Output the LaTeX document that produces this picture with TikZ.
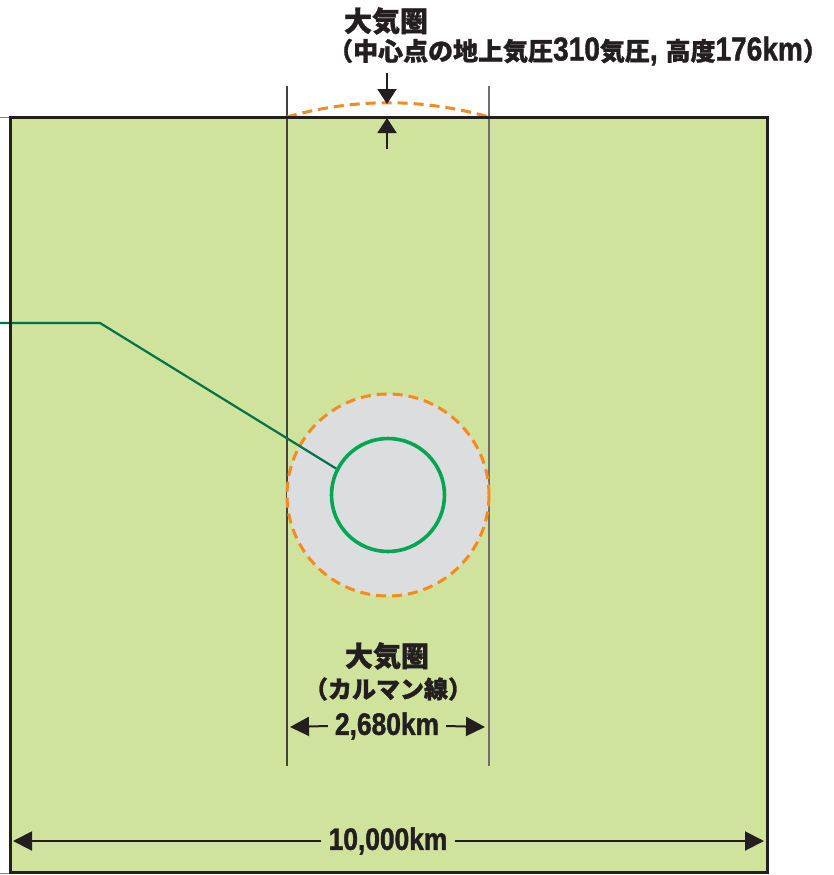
\documentclass[tikz,border=0pt]{standalone}
\usepackage{fontspec}
\usetikzlibrary{arrows.meta}
\newfontfamily\jpf{Noto Sans CJK JP}[BoldFeatures={FakeBold=1.2}]
\newfontfamily\numf{Liberation Sans}[FakeStretch=0.85, BoldFeatures={FakeBold=1.3}]
\definecolor{ink}{HTML}{231F20}
\definecolor{field}{HTML}{D0E39C}
\definecolor{orng}{HTML}{F58A1F}
\definecolor{grn}{HTML}{00A651}
\definecolor{dgrn}{HTML}{00734A}
\definecolor{atm}{HTML}{DCDDDE}
\newcommand{\jtxt}[1]{{\jpf\bfseries #1}}
\newcommand{\ntxt}[1]{{\numf\bfseries #1}}
\begin{document}
\begin{tikzpicture}[x=1pt,y={(0,-1pt)},
  lbl/.style={inner sep=0pt, text=ink},
  dimlbl/.style={inner ysep=0pt, inner xsep=7pt, text=ink, font=\fontsize{31}{33}\selectfont},
  tipline/.style={ink, line width=2pt, -{Triangle[length=15pt,width=19pt]}},
  dimline/.style={ink, line width=2pt, -{Triangle[length=19pt,width=19pt]}},
  guide/.style={ink!85, line width=1.2pt},
  orangedash/.style={orng, line width=3pt, dash pattern=on 10pt off 6pt}]
\useasboundingbox (0,0) rectangle (833,875);
% field
\fill[field] (10,117) rectangle (767,872);
% small ticks at left
\draw[gray, line width=1pt] (0,117) -- (10,117);
\draw[gray, line width=1pt] (0,873) -- (10,873);
% guide lines
\coordinate (gla) at (287,86); \coordinate (glb) at (287,766);
\coordinate (gra) at (489,86); \coordinate (grb) at (489,766);
\draw[guide] (gla) -- (glb);
\draw[guide, ink!65] (gra) -- (grb);
% atmosphere circle
\node[circle, minimum size=202pt, inner sep=0pt, fill=atm, draw=orng, line width=3pt, dash pattern=on 10pt off 6pt] (outer) at (388,495) {};
\node[circle, minimum size=113pt, inner sep=0pt, draw=grn, line width=3.6pt] (inner) at (388,495) {};
% connector
\coordinate (c0) at (0,323);
\coordinate (c1) at (100,323);
\draw[dgrn, line width=2.2pt] (c0) -- (c1) -- (inner.153);
% top arc
\coordinate (arcl) at (287,117); \coordinate (arcr) at (489,117);
\draw[orangedash] (arcl) .. controls (354,98) and (422,98) .. (arcr);
% border
\draw[ink, line width=3pt] (10,117) rectangle (767,872);
% top arrows
\coordinate (a1s) at (387,73); \coordinate (a1e) at (387,104);
\coordinate (a2s) at (387,149); \coordinate (a2e) at (387,118);
\draw[tipline] (a1s) -- (a1e);
\draw[tipline] (a2s) -- (a2e);
% top labels
\node[lbl, font=\fontsize{28}{30}\selectfont] (t1) at (386,21) {\jtxt{大気圏}};
\node[lbl, font=\fontsize{25}{27}\selectfont] (t2) at (578,51) {\jtxt{（中心点の地上気圧}{\fontsize{33}{33}\selectfont\ntxt{310}}\jtxt{気圧}{\fontsize{33}{33}\selectfont\ntxt{, }}\jtxt{高度}{\fontsize{33}{33}\selectfont\ntxt{176km}}\jtxt{）}};
% bottom labels
\node[lbl, font=\fontsize{28}{30}\selectfont] (b1) at (387,656) {\jtxt{大気圏}};
\node[lbl, font=\fontsize{24}{26}\selectfont] (b2) at (388,689) {\jtxt{（カルマン線）}};
% 2,680 km
\node[dimlbl] (d1) at (387,726) {\ntxt{2,680km}};
\coordinate (d1l) at (290,727); \coordinate (d1r) at (485,727);
\draw[dimline] (d1.west) -- (d1l);
\draw[dimline] (d1.east) -- (d1r);
% 10,000 km
\node[dimlbl] (d2) at (388,841) {\ntxt{10,000km}};
\coordinate (d2l) at (13,841); \coordinate (d2r) at (764,841);
\draw[dimline] (d2.west) -- (d2l);
\draw[dimline] (d2.east) -- (d2r);
\end{tikzpicture}
\end{document}
